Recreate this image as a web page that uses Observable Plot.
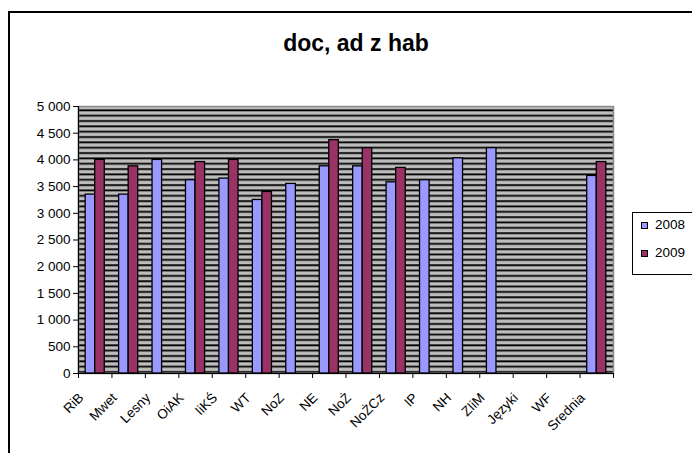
<!DOCTYPE html>
<html>
<head>
<meta charset="utf-8">
<script src="https://cdn.jsdelivr.net/npm/d3@7"></script>
<script src="https://cdn.jsdelivr.net/npm/@observablehq/plot@0.6"></script>
<style>
  html, body { margin: 0; padding: 0; background: #fff; }
  #wrap { position: relative; width: 692px; height: 453px; overflow: hidden; font-family: "Liberation Sans", Arial, sans-serif; }
  #border { position: absolute; left: 8px; top: 11px; width: 800px; height: 600px; border-top: 2px solid #000; border-left: 2px solid #000; box-sizing: border-box; }
  #title { position: absolute; left: 0; width: 712px; top: 30px; text-align: center; font-weight: bold; font-size: 23px; color: #000; }
  #legend { position: absolute; left: 632px; top: 212px; width: 80px; height: 61px; border: 1px solid #000; background: #fff; }
  .sw { position: absolute; left: 8px; width: 5px; height: 5px; border: 1px solid #000; }
  .lt { position: absolute; left: 22px; font-size: 13.5px; line-height: 14px; color: #000; }
  #chart { position: absolute; left: 0; top: 0; }
</style>
</head>
<body>
<div id="wrap">
  <div id="border"></div>
  <div id="chart"></div>
  <div id="title">doc, ad z hab</div>
  <div id="legend"></div>
</div>
<script>
const categories = ["RiB", "Mwet", "Lesny", "OiAK", "IiKŚ", "WT", "NoZ", "NE", "NoŻ", "NoŻCz", "IP", "NH", "ZIiM", "Języki", "WF", "Srednia"];
const series = ["2008", "2009"];
const values2008 = [3350, 3350, 4000, 3620, 3650, 3250, 3550, 3880, 3880, 3580, 3620, 4030, 4220, null, null, 3700];
const values2009 = [4000, 3880, null, 3960, 4000, 3400, null, 4370, 4220, 3850, null, null, null, null, null, 3960];
const colors = ["#9999FF", "#993366"];
const yTicks = [0, 500, 1000, 1500, 2000, 2500, 3000, 3500, 4000, 4500, 5000];

const W = 692, H = 453;
const mL = 78, mR = 79, mT = 106, mB = 80;
const step = (W - mL - mR) / categories.length;
const bw = step / 3.5;
const gap = 0.75 * bw;

const rows = (vals) => categories.map((c, i) => ({cat: c, value: vals[i]})).filter(d => d.value != null);
const r2008 = rows(values2008);
const r2009 = rows(values2009);

const fmt = d => d3.format(",")(d).replace(/,/g, " ");

const chart = Plot.plot({
  width: W, height: H,
  marginLeft: mL, marginRight: mR, marginTop: mT, marginBottom: mB,
  style: {fontFamily: "'Liberation Sans', Arial, sans-serif", fontSize: "13px", background: "transparent", color: "#000"},
  x: {domain: categories, padding: 0, round: false, axis: null},
  y: {domain: [0, 5000], axis: null},
  marks: [
    Plot.frame({fill: "url(#hatch)", stroke: "#8a8a8a", strokeWidth: 1.5}),
    Plot.barY(r2008, {x: "cat", y: "value", fill: colors[0], stroke: "#000", strokeWidth: 1.3, insetLeft: gap, insetRight: step - gap - bw}),
    Plot.barY(r2009, {x: "cat", y: "value", fill: colors[1], stroke: "#000", strokeWidth: 1.3, insetLeft: gap + bw, insetRight: step - gap - 2 * bw}),
    Plot.frame({anchor: "left", stroke: "#000", strokeWidth: 1.2}),
    Plot.frame({anchor: "bottom", stroke: "#000", strokeWidth: 1.2}),
    Plot.axisY({ticks: yTicks, tickSize: 5, tickPadding: 3, tickFormat: fmt, fontSize: 13.5, label: null, stroke: "#000"}),
    Plot.axisX({ticks: categories, tickSize: 5, tickFormat: () => "", dx: -step / 2, label: null, stroke: "#000"}),
    Plot.axisX({ticks: categories.slice(-1), tickSize: 5, tickFormat: () => "", dx: step / 2, label: null, stroke: "#000"}),
    Plot.text(categories, {x: d => d, frameAnchor: "bottom", rotate: -45, textAnchor: "end", lineAnchor: "middle", fontSize: 13.5, dx: -14, dy: 22, fill: "#000"})
  ]
});

// hatch pattern: grey with dense horizontal black lines
const ns = "http://www.w3.org/2000/svg";
const defs = document.createElementNS(ns, "defs");
const pat = document.createElementNS(ns, "pattern");
const period = (H - mT - mB) / 50;
pat.setAttribute("id", "hatch");
pat.setAttribute("patternUnits", "userSpaceOnUse");
pat.setAttribute("x", 0);
pat.setAttribute("y", mT);
pat.setAttribute("width", 20);
pat.setAttribute("height", period);
const bg = document.createElementNS(ns, "rect");
bg.setAttribute("width", 20); bg.setAttribute("height", period); bg.setAttribute("fill", "#BDBDBD");
const ln = document.createElementNS(ns, "rect");
ln.setAttribute("y", period * 0.55); ln.setAttribute("width", 20); ln.setAttribute("height", 1.8); ln.setAttribute("fill", "#000");
pat.appendChild(bg); pat.appendChild(ln); defs.appendChild(pat);
chart.insertBefore(defs, chart.firstChild);

document.getElementById("chart").appendChild(chart);

// legend
const legend = document.getElementById("legend");
series.forEach((s, i) => {
  const sw = document.createElement("div");
  sw.className = "sw";
  sw.style.top = (9 + i * 28) + "px";
  sw.style.background = colors[i];
  legend.appendChild(sw);
  const t = document.createElement("div");
  t.className = "lt";
  t.style.top = (5 + i * 28) + "px";
  t.textContent = s;
  legend.appendChild(t);
});
</script>
</body>
</html>
